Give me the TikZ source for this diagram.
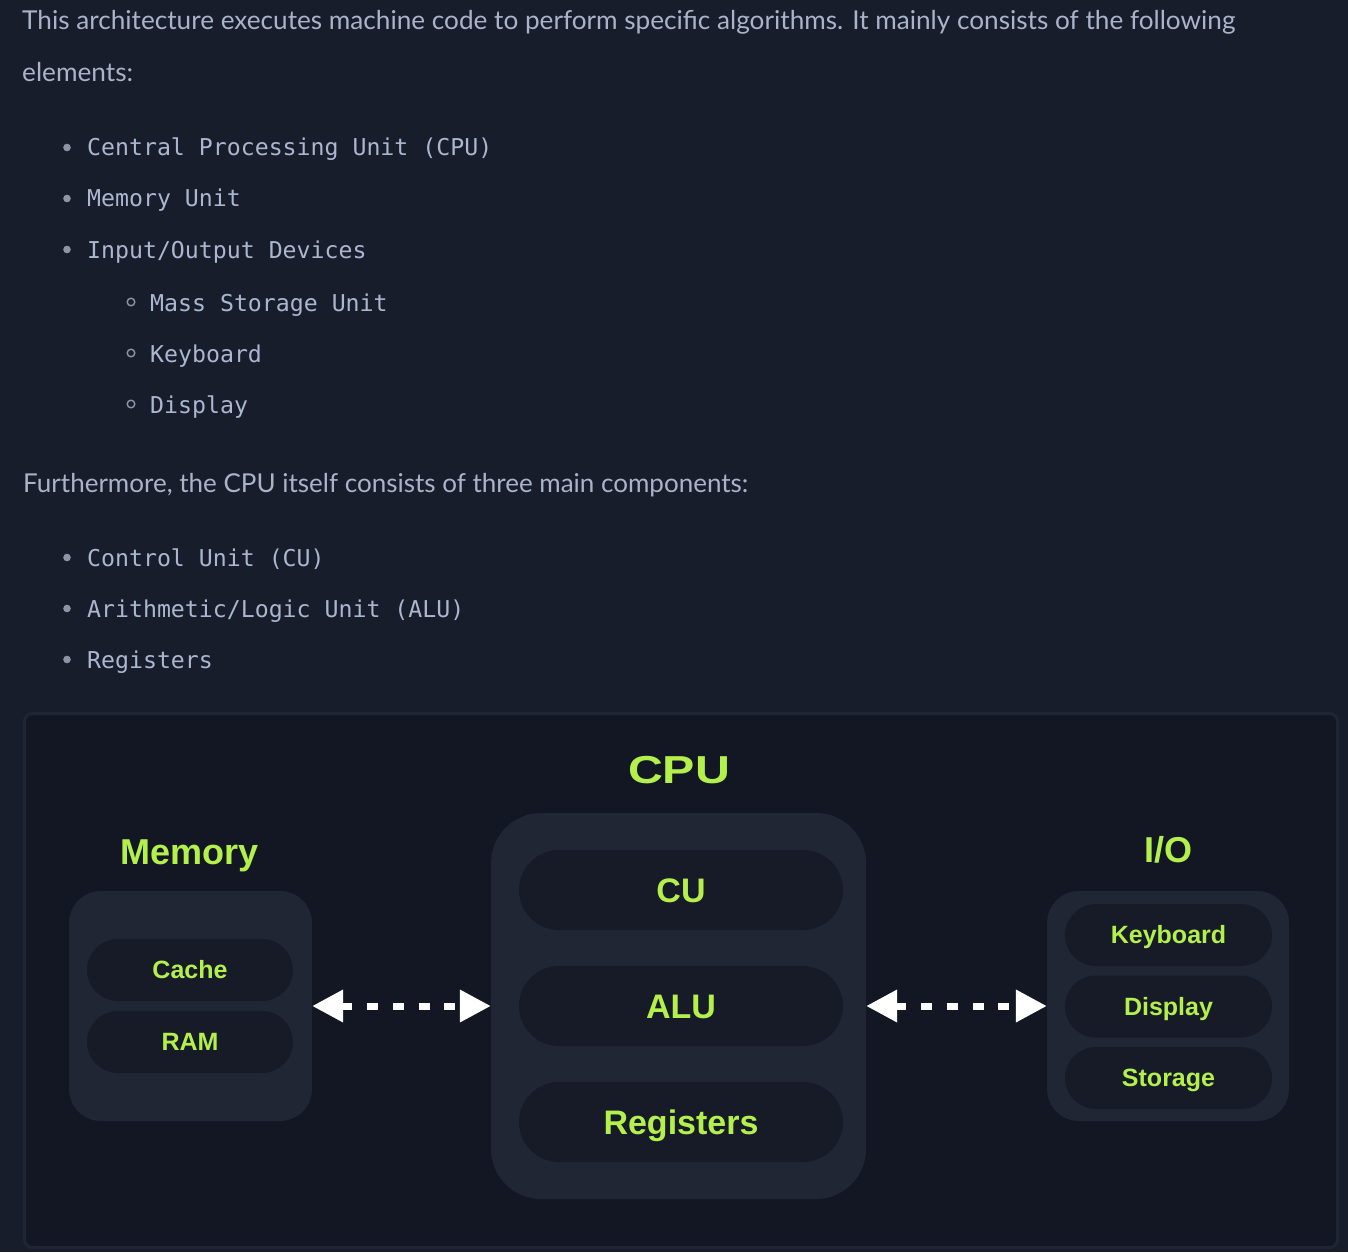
\documentclass[tikz,border=0pt]{standalone}
\usepackage{fontspec}
\usepackage{graphicx}
\usetikzlibrary{arrows.meta}
\setmainfont{Lato}
\newfontfamily\bodyfont{Lato}
\newfontfamily\codefont{DejaVu Sans Mono}
\newfontfamily\labfont{Liberation Sans}
\definecolor{pagebg}{HTML}{171D2B}
\definecolor{panelbg}{HTML}{121723}
\definecolor{panelborder}{HTML}{1F2535}
\definecolor{groupbg}{HTML}{212635}
\definecolor{pillbg}{HTML}{171B28}
\definecolor{lime}{HTML}{B4F04C}
\definecolor{bodytxt}{HTML}{A9B3C9}
\definecolor{codetxt}{HTML}{ABB6D0}
\definecolor{bulletc}{HTML}{8C95A8}
\tikzset{
  para/.style={anchor=base west, inner sep=0pt, text=bodytxt, font=\bodyfont\fontsize{26}{26}\selectfont},
  code/.style={anchor=base west, inner sep=0pt, text=codetxt, font=\codefont\fontsize{23.2}{23.2}\selectfont},
  grp/.style={fill=groupbg, draw=none, inner sep=0pt},
  pill/.style={fill=pillbg, draw=none, inner sep=0pt, text=lime, text depth=0pt},
  pillbig/.style={pill, minimum width=324pt, minimum height=80pt, rounded corners=40pt, text height=24.3pt, font=\labfont\bfseries\fontsize{34}{34}\selectfont},
  pillsmall/.style={pill, minimum width=206pt, minimum height=62pt, rounded corners=31pt, text height=17.9pt, font=\labfont\bfseries\fontsize{25}{25}\selectfont},
  title/.style={anchor=base, inner sep=0pt, text=lime, font=\labfont\bfseries\fontsize{36}{36}\selectfont},
  arr/.style={white, line width=7pt, dash pattern=on 11pt off 14.7pt,
    {Triangle[length=31pt,width=31pt]}-{Triangle[length=31pt,width=31pt]}}
}
\begin{document}
\begin{tikzpicture}[x=1pt,y=-1pt]
\fill[pagebg] (0,0) rectangle (1348,1252);
\useasboundingbox (0,0) rectangle (1348,1252);

% intro text
\node[para] (t1) at (22,30) {\resizebox{1213pt}{\height}{This architecture executes machine code to perform specific algorithms. It mainly consists of the following}};
\node[para] (t2) at (22,82) {\resizebox{111pt}{\height}{elements:}};

\fill[bulletc] (67,147.5) circle (3.8);
\fill[bulletc] (67,198.5) circle (3.8);
\fill[bulletc] (67,249.5) circle (3.8);
\node[code] (b1) at (87,156) {Central Processing Unit (CPU)};
\node[code] (b2) at (87,207) {Memory Unit};
\node[code] (b3) at (87,258) {Input/Output Devices};

\draw[bulletc, line width=1.4pt] (131,302) circle (3.8);
\draw[bulletc, line width=1.4pt] (131,353) circle (3.8);
\draw[bulletc, line width=1.4pt] (131,404) circle (3.8);
\node[code] (s1) at (150,311) {Mass Storage Unit};
\node[code] (s2) at (150,362) {Keyboard};
\node[code] (s3) at (150,413) {Display};

\node[para] (t3) at (23,492) {\resizebox{725pt}{\height}{Furthermore, the CPU itself consists of three main components:}};

\fill[bulletc] (67,557.5) circle (3.8);
\fill[bulletc] (67,608.5) circle (3.8);
\fill[bulletc] (67,659.5) circle (3.8);
\node[code] (c1) at (87,566) {Control Unit (CU)};
\node[code] (c2) at (87,617) {Arithmetic/Logic Unit (ALU)};
\node[code] (c3) at (87,668) {Registers};

% diagram panel
\draw[panelborder, line width=3pt, fill=panelbg, rounded corners=8pt] (24.5,713.5) rectangle (1337.5,1247.5);

% titles
\node[anchor=base, inner sep=0pt, text=lime, font=\labfont\bfseries\fontsize{39}{39}\selectfont] (cpuT) at (679,783) {\resizebox{102pt}{\height}{CPU}};
\node[title] (memT) at (190,864) {Memory};
\node[title] (ioT) at (1168,862) {I/O};

% groups
\node[grp, minimum width=243pt, minimum height=230pt, rounded corners=32pt] (mem) at (190.5,1006) {};
\node[grp, minimum width=375pt, minimum height=386pt, rounded corners=50pt] (cpu) at (678.5,1006) {};
\node[grp, minimum width=242pt, minimum height=230pt, rounded corners=32pt] (io) at (1168,1006) {};

% memory pills
\node[pillsmall] (cache) at (190,970) {Cache};
\node[pillsmall] (ram) at (190,1042) {RAM};

% cpu pills
\node[pillbig] (cu) at (681,890) {CU};
\node[pillbig] (alu) at (681,1006) {ALU};
\node[pillbig] (reg) at (681,1122) {Registers};

% io pills
\node[pillsmall, minimum width=207pt] (kb) at (1168.5,935) {Keyboard};
\node[pillsmall, minimum width=207pt] (disp) at (1168.5,1006.5) {Display};
\node[pillsmall, minimum width=207pt] (stor) at (1168.5,1078) {Storage};

% connectors
\draw[arr] (mem.east) -- (cpu.west);
\draw[arr] (cpu.east) -- (io.west);
\end{tikzpicture}
\end{document}
